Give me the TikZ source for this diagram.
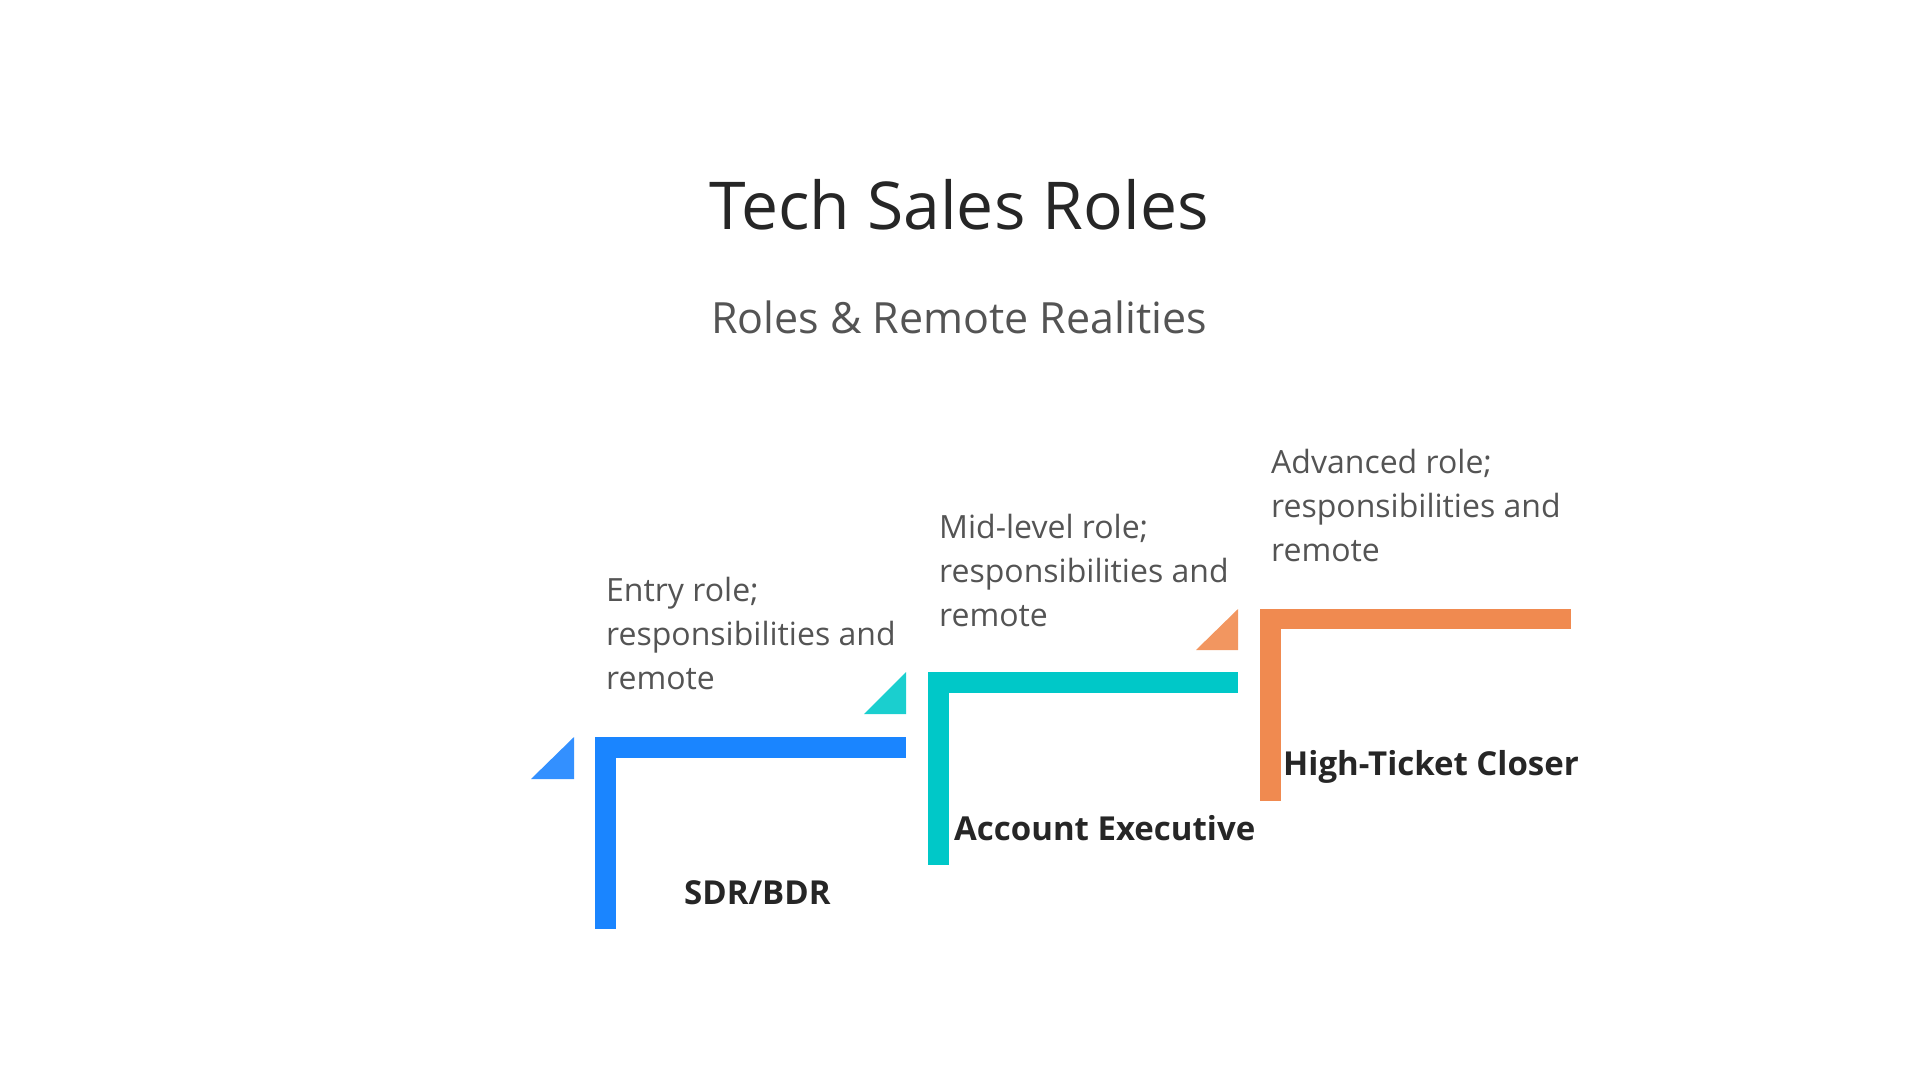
\documentclass[tikz,border=0pt]{standalone}
\usepackage{fontspec}
\setmainfont{Open Sans}
\begin{document}
\begin{tikzpicture}[x=1pt,y=-1pt,
  desc/.style={anchor=base west,inner sep=0,align=left,text=black!67,font=\fontsize{32}{44}\selectfont},
  lab/.style={anchor=base west,inner sep=0,text=black!85,font=\bfseries\fontsize{33}{40}\selectfont}]
\useasboundingbox (0,0) rectangle (1920,1080);
\definecolor{cb}{HTML}{1A85FF}\definecolor{cbt}{HTML}{3390FF}
\definecolor{ct}{HTML}{00C8C8}\definecolor{ctt}{HTML}{1ACFCF}
\definecolor{co}{HTML}{F08A50}\definecolor{cot}{HTML}{F29660}
\node[anchor=base,inner sep=0,text=black!85,font=\fontsize{66}{72}\selectfont] (title) at (959,229) {Tech Sales Roles};
\node[anchor=base,inner sep=0,text=black!67,font=\fontsize{43}{50}\selectfont] (sub) at (959,333) {Roles \& Remote Realities};
% blue
\fill[cb] (595,737) rectangle (906,758);
\fill[cb] (595,737) rectangle (616,929);
\fill[cbt] (531,779) -- (574,737) -- (574,779) -- cycle;
% teal
\fill[ct] (928,672) rectangle (1238,693);
\fill[ct] (928,672) rectangle (949,865);
\fill[ctt] (864,714) -- (906,672) -- (906,714) -- cycle;
% orange
\fill[co] (1260,609) rectangle (1571,629);
\fill[co] (1260,609) rectangle (1281,801);
\fill[cot] (1196,650) -- (1238,609) -- (1238,650) -- cycle;
\node[lab] (l1) at (684,904) {SDR/BDR};
\node[lab] (l2) at (954,840) {Account Executive};
\node[lab] (l3) at (1283,775) {High-Ticket Closer};
\node[desc] (d1) at (606,689) {Entry role;\\responsibilities and\\remote};
\node[desc] (d2) at (939,626) {Mid-level role;\\responsibilities and\\remote};
\node[desc] (d3) at (1271,561) {Advanced role;\\responsibilities and\\remote};
\end{tikzpicture}
\end{document}
